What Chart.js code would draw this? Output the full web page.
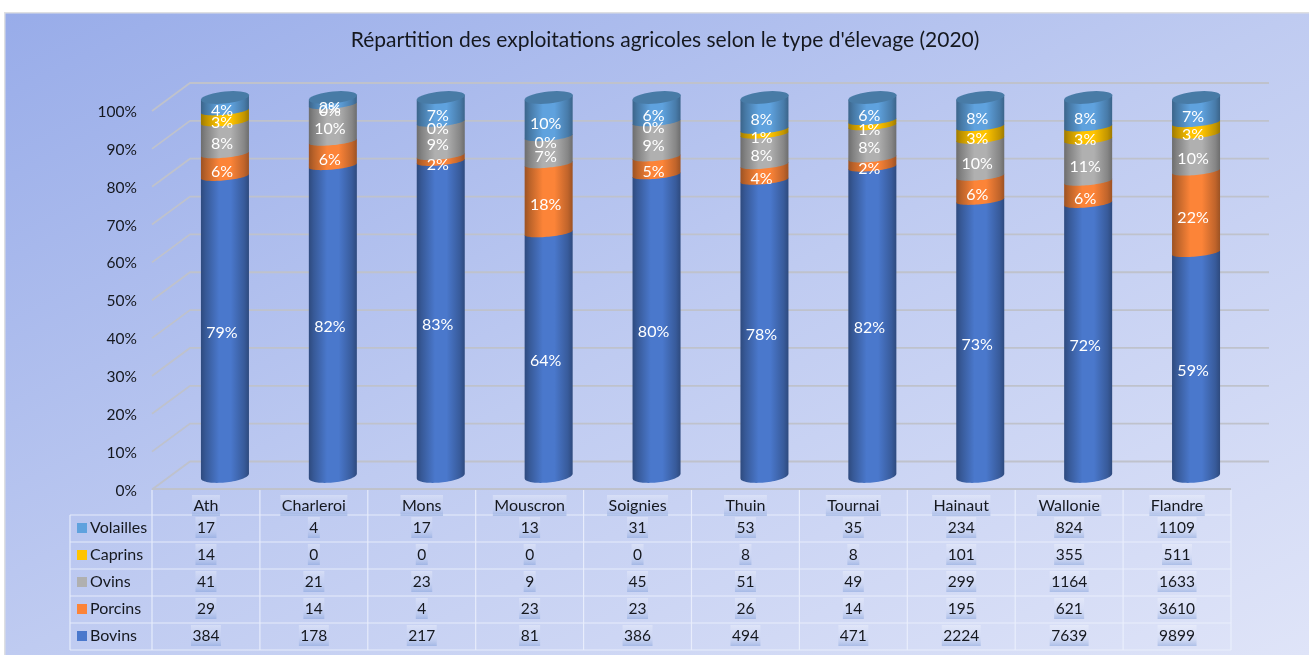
<!DOCTYPE html>
<html><head><meta charset="utf-8">
<style>html,body{margin:0;padding:0;background:#fff}canvas{display:block}#w{width:1309px;height:655px;position:relative}</style>
<script src="https://cdn.jsdelivr.net/npm/chart.js@4"></script>
</head><body><div id="w"><canvas id="c" width="1309" height="655"></canvas></div>
<script>
const titleText = "Répartition des exploitations agricoles selon le type d'élevage (2020)";
const categories = ["Ath","Charleroi","Mons","Mouscron","Soignies","Thuin","Tournai","Hainaut","Wallonie","Flandre"];
const bovins   = [384,178,217,81,386,494,471,2224,7639,9899];
const porcins  = [29,14,4,23,23,26,14,195,621,3610];
const ovins    = [41,21,23,9,45,51,49,299,1164,1633];
const caprins  = [14,0,0,0,0,8,8,101,355,511];
const volailles= [17,4,17,13,31,53,35,234,824,1109];
const totals = categories.map((_,i)=>bovins[i]+porcins[i]+ovins[i]+caprins[i]+volailles[i]);
const share = a => a.map((v,i)=>v/totals[i]*100);
const FONT = "Lato";
const DX = 19, DY = 14, TILT = 2.3;

function hexRgb(h){return [1,3,5].map(i=>parseInt(h.substr(i,2),16));}
function shade(h,f){return 'rgb('+hexRgb(h).map(v=>Math.min(255,Math.round(v*f))).join(',')+')';}
function cylGrad(ctx,x,r,col){
  const g=ctx.createLinearGradient(x-r,0,x+r,0);
  g.addColorStop(0,shade(col,.62));g.addColorStop(.1,shade(col,.74));g.addColorStop(.38,shade(col,1));
  g.addColorStop(.62,shade(col,1));g.addColorStop(.9,shade(col,.76));g.addColorStop(1,shade(col,.62));
  return g;
}
function arc(ctx,x,cy,r,ry,tilt,from,to){
  const n=36;
  for(let i=0;i<=n;i++){
    const t=from+(to-from)*i/n;
    const px=x+r*Math.cos(t),py=cy+ry*Math.sin(t)-tilt*Math.cos(t);
    ctx.lineTo(px,py);
  }
}
const cylPlugin={
  id:'cyl',
  beforeDraw(chart){
    const {ctx,width:W,height:H}=chart;
    ctx.save();
    const g=ctx.createLinearGradient(5,13,522,1047);
    g.addColorStop(0,'#98ace9');g.addColorStop(.5,'#bfcbf1');g.addColorStop(1,'#dfe4f8');
    ctx.fillStyle='#fff';ctx.fillRect(0,0,W,H);
    ctx.fillStyle='#dedfe2';ctx.fillRect(4,12,W-4,H-12);
    ctx.fillStyle=g;ctx.fillRect(5.5,13.5,W-5.5,H-13.5);
    ctx.restore();
  },
  beforeDatasetsDraw(chart){
    const {ctx,chartArea:a}=chart, y=chart.scales.y;
    ctx.save();
    ctx.strokeStyle='#bfc2cc';ctx.lineWidth=1.8;
    y.ticks.forEach(t=>{
      const p=y.getPixelForValue(t.value);
      ctx.beginPath();
      ctx.moveTo(a.left-DX,p+DY-.5);ctx.lineTo(a.left+DX,p-DY-.5);ctx.lineTo(a.right+DX,p-DY-.5);
      ctx.stroke();
    });
    ctx.restore();
  },
  beforeDatasetDraw(){return false;},
  afterDatasetsDraw(chart){
    const {ctx}=chart;
    const metas=chart.data.datasets.map((d,i)=>chart.getDatasetMeta(i));
    ctx.save();
    categories.forEach((_,i)=>{
      metas.forEach((m,di)=>{
        const el=m.data[i],v=chart.data.datasets[di].data[i];
        if(!v) return;
        const col=chart.data.datasets[di].backgroundColor,r=el.width/2,x=el.x;
        const ry=di===0?6.5:4;
        ctx.beginPath();
        ctx.moveTo(x-r,el.y+TILT);
        arc(ctx,x,el.base,r,ry,TILT,Math.PI,0);
        ctx.lineTo(x+r,el.y-TILT);
        ctx.closePath();
        ctx.fillStyle=cylGrad(ctx,x,r,col);
        ctx.fill();
      });
      const last=metas[metas.length-1].data[i],r=last.width/2;
      ctx.beginPath();ctx.moveTo(last.x+r,last.y-TILT);
      arc(ctx,last.x,last.y,r,6,TILT,0,Math.PI*2);
      ctx.closePath();
      ctx.fillStyle='#487ba6';ctx.fill();
    });
    ctx.font='16px '+FONT;ctx.textAlign='center';ctx.textBaseline='middle';ctx.fillStyle='#fff';
    categories.forEach((_,i)=>{
      metas.forEach((m,di)=>{
        const el=m.data[i],v=chart.data.datasets[di].data[i];
        ctx.fillText(Math.round(v)+'%',el.x-3,(el.y+el.base)/2+6.5);
      });
    });
    ctx.restore();
    drawTable(chart);
  }
};
function textBox(ctx,txt,cx,top){
  const w=ctx.measureText(txt).width+3;
  const g=ctx.createLinearGradient(0,top,0,top+21);
  g.addColorStop(0,'rgba(255,255,255,.32)');g.addColorStop(.45,'rgba(225,232,250,.12)');g.addColorStop(1,'rgba(110,145,210,.42)');
  ctx.fillStyle=g;ctx.fillRect(cx-w/2,top,w,21);
}
function drawTable(chart){
  const {ctx,chartArea:a}=chart,xs=chart.scales.x;
  const step=xs.getPixelForValue(1)-xs.getPixelForValue(0);
  const x0=a.left-DX,x1=a.right-DX;
  const top=489,hdrBottom=515,rowH=27;
  const rows=chart.data.datasets.slice().reverse();
  const legendLeft=70;
  ctx.save();
  ctx.strokeStyle='#bfc2cc';ctx.lineWidth=1.8;
  ctx.beginPath();ctx.moveTo(x0,top);ctx.lineTo(x1,top);ctx.stroke();
  ctx.strokeStyle='rgba(236,241,253,.85)';ctx.lineWidth=1.2;
  ctx.beginPath();
  for(let r=0;r<=rows.length;r++){const yy=hdrBottom+r*rowH;ctx.moveTo(legendLeft,yy);ctx.lineTo(x1,yy);}
  ctx.moveTo(legendLeft,hdrBottom);ctx.lineTo(legendLeft,hdrBottom+rows.length*rowH);
  for(let c=0;c<=categories.length;c++){const xx=x0+c*step;ctx.moveTo(xx,top+1);ctx.lineTo(xx,hdrBottom+rows.length*rowH);}
  ctx.stroke();
  ctx.font='16px '+FONT;ctx.textBaseline='middle';
  categories.forEach((c,i)=>{
    const cx=x0+(i+.5)*step;
    ctx.textAlign='center';
    textBox(ctx,c,cx,495);
    ctx.fillStyle='#15181f';ctx.fillText(c,cx,505.5);
  });
  rows.forEach((d,r)=>{
    const ry=hdrBottom+r*rowH;
    ctx.font='16px '+FONT;
    ctx.fillStyle=d.backgroundColor;ctx.fillRect(77,ry+8,10,10);
    ctx.fillStyle='#15181f';ctx.textAlign='left';ctx.fillText(d.label,90,ry+12.5);
    ctx.textAlign='center';
    ctx.font='15.5px '+FONT;
    d.counts.forEach((v,i)=>{
      const cx=x0+(i+.5)*step,s=String(v);
      textBox(ctx,s,cx,ry+2);
      ctx.fillStyle='#15181f';ctx.fillText(s,cx,ry+13);
    });
  });
  ctx.restore();
}
new Chart(document.getElementById('c'),{
  type:'bar',
  plugins:[cylPlugin],
  data:{labels:categories,datasets:[
    {label:'Bovins',data:share(bovins),counts:bovins,backgroundColor:'#4a78cc'},
    {label:'Porcins',data:share(porcins),counts:porcins,backgroundColor:'#fc8438'},
    {label:'Ovins',data:share(ovins),counts:ovins,backgroundColor:'#b0b0b0'},
    {label:'Caprins',data:share(caprins),counts:caprins,backgroundColor:'#ffc400'},
    {label:'Volailles',data:share(volailles),counts:volailles,backgroundColor:'#5fa2de'}
  ]},
  options:{
    responsive:false,animation:false,
    barPercentage:.445,categoryPercentage:1,
    layout:{padding:{left:80,right:59,top:0,bottom:179}},
    plugins:{
      legend:{display:false},tooltip:{enabled:false},
      title:{display:true,text:titleText,color:'#15181f',font:{family:FONT,size:21,weight:'normal'},padding:{top:28,bottom:44.3},align:'center'}
    },
    scales:{
      x:{stacked:true,display:false},
      y:{stacked:true,min:0,max:100,
        afterFit(s){s.width=91;},
        grid:{display:false,drawTicks:false},border:{display:false},
        ticks:{stepSize:10,padding:34,labelOffset:14.5,color:'#15181f',font:{family:FONT,size:15.5},callback:v=>v+'%'}}
    }
  }
});
</script></body></html>
